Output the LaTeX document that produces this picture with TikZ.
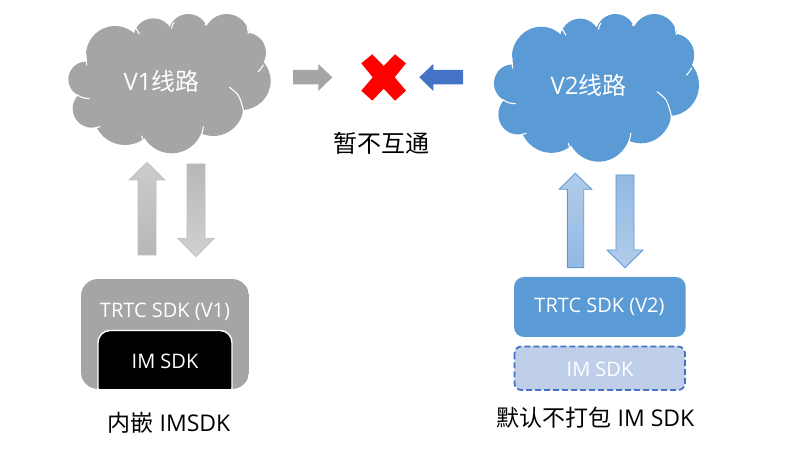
\documentclass[tikz,border=0pt]{standalone}
\usepackage{fontspec}
\setmainfont{Open Sans}
\newfontfamily\cjk{Noto Sans CJK SC}
\definecolor{cgray}{HTML}{A5A5A5}
\definecolor{cblue}{HTML}{5B9BD5}
\definecolor{dblue}{HTML}{4472C4}
\definecolor{lblue}{HTML}{BFCFE9}
\definecolor{aone}{HTML}{B2CCEA}
\definecolor{atwo}{HTML}{92B9E2}
\tikzset{
  lobes/.pic={
    \foreach \cx/\cy/\rr in {108/208/53,125/296/57,225/310/95,365/335/95,490/287/91,575/213/87,588/128/60,530/80/68,415/72/60,310/85/60,195/135/87}{
      \fill[pic actions] (\cx,\cy) circle[radius=\rr];
    }
    \fill[pic actions] (108,208) -- (195,135) -- (310,85) -- (415,72) -- (530,80) -- (588,128) -- (575,213) -- (490,287) -- (365,335) -- (225,310) -- (125,296) -- cycle;
    \draw[white,line width=1.1pt,line cap=round]
      plot[smooth] coordinates {(80,254) (98,263) (118,266)}
      plot[smooth] coordinates {(135,355) (142,352) (150,350)}
      plot[smooth] coordinates {(275,378) (279,388) (286,398)}
      plot[smooth] coordinates {(460,350) (458,362) (455,372)}
      plot[smooth] coordinates {(538,232) (565,256) (580,300) (578,320)}
      plot[smooth] coordinates {(640,165) (633,176) (625,185)}
      plot[smooth] coordinates {(595,70) (594,62) (592,52)}
      plot[smooth] coordinates {(465,45) (470,35) (478,28)}
      plot[smooth] coordinates {(365,55) (367,45) (372,38)}
      plot[smooth] coordinates {(258,55) (263,64) (268,72)}
      plot[smooth] coordinates {(110,165) (109,150) (108,135)};
  },
  wtext/.style={text=white,font=\fontsize{20}{24}\selectfont,inner sep=0pt,anchor=center},
  btext/.style={text=black,font=\fontsize{23}{27}\selectfont,inner sep=0pt,anchor=center},
  ctext/.style={text=white,font=\fontsize{24}{28}\selectfont,inner sep=0pt,anchor=center},
  grayup/.style={draw=black!25,line width=0.7pt,top color=black!20,bottom color=black!28},
  graydown/.style={draw=black!25,line width=0.7pt,top color=black!28,bottom color=black!18},
  blueup/.style={draw=cblue,line width=0.9pt,top color=aone,bottom color=atwo},
  bluedown/.style={draw=cblue,line width=0.9pt,top color=atwo,bottom color=aone},
}
\begin{document}
\begin{tikzpicture}[x=1pt,y=-1pt]
\useasboundingbox (0,0) rectangle (812,454);
% clouds
\begin{scope}[shift={(50,10)},x=0.3333pt,y=-0.3333pt]
\pic[fill=cgray] {lobes};
\end{scope}
\begin{scope}[shift={(475.4,9.76)},x=0.3377pt,y=-0.3533pt]
\pic[fill=cblue] {lobes};
\end{scope}
\node[ctext] (v1) at (161.7,81) {V1{\cjk 线路}};
\node[ctext] (v2) at (588.7,85) {V2{\cjk 线路}};
% vertical arrows left
\draw[grayup] (147,162.3) -- (165,180) -- (156,180) -- (156,255) -- (138,255) -- (138,180) -- (129,180) -- cycle;
\draw[graydown] (187,164) -- (205,164) -- (205,238.3) -- (214.3,238.3) -- (196,256.7) -- (177.7,238.3) -- (187,238.3) -- cycle;
% vertical arrows right
\draw[blueup] (575.3,173.3) -- (591.7,189.3) -- (583.7,189.3) -- (583.7,267.7) -- (567.3,267.7) -- (567.3,189.3) -- (559.3,189.3) -- cycle;
\draw[bluedown] (616,175) -- (634,175) -- (634,250) -- (643,250) -- (625,267.7) -- (607,250) -- (616,250) -- cycle;
% middle
\fill[cgray] (293,70) -- (318.3,70) -- (318.3,64) -- (332.3,77.3) -- (318.3,91) -- (318.3,84.3) -- (293,84.3) -- cycle;
\fill[dblue] (463,70) -- (433.3,70) -- (433.3,64) -- (419.3,77.3) -- (433.3,91) -- (433.3,84.3) -- (463,84.3) -- cycle;
\fill[red] (361.3,63.3) -- (372.3,54.3) -- (383.7,66) -- (395,54.3) -- (406,63.3) -- (394.7,77.3) -- (406,90.7) -- (395,100.7) -- (383.7,88.7) -- (372.3,100.7) -- (361.3,90.7) -- (372.7,77.3) -- cycle;
\node[btext,font=\fontsize{24}{28}\selectfont\cjk] (none) at (381,143.3) {暂不互通};
% left boxes
\begin{scope}
\clip[rounded corners=17pt] (81,279) rectangle (249,389);
\fill[cgray] (81,279) rectangle (249,389);
\draw[white,line width=1.4pt,fill=black,rounded corners=12pt] (98,330.5) rectangle (232,400);
\end{scope}
\node[wtext] (trtc1) at (165,311.5) {TRTC SDK (V1)};
\node[wtext] (im1) at (165,361) {IM SDK};
\node[btext] (cap1) at (169,423) {{\cjk 内嵌} IMSDK};
% right boxes
\fill[cblue,rounded corners=10pt] (514,277) rectangle (685.7,337);
\node[wtext] (trtc2) at (599.5,307.3) {TRTC SDK (V2)};
\draw[dblue,fill=lblue,line width=1.8pt,dash pattern=on 6pt off 3pt,rounded corners=7pt] (514.5,346.5) rectangle (685,390);
\node[wtext] (im2) at (600,369) {IM SDK};
\node[btext] (cap2) at (595.5,418) {{\cjk 默认不打包} IM SDK};
\end{tikzpicture}
\end{document}
